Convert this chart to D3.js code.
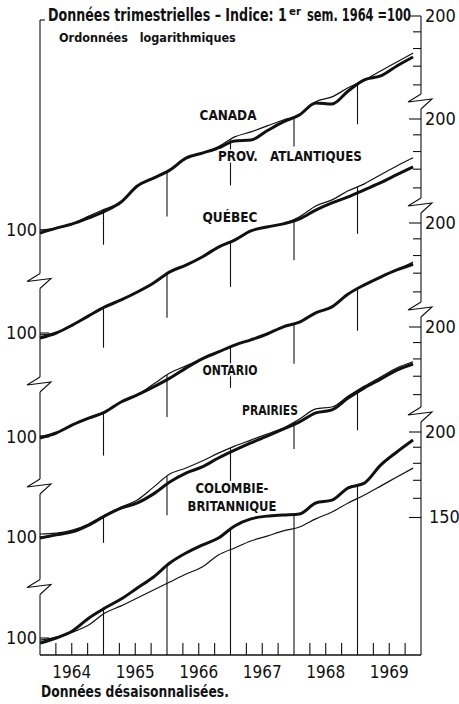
<!DOCTYPE html>
<html>
<head>
<meta charset="utf-8">
<script src="https://cdn.jsdelivr.net/npm/d3@7/dist/d3.min.js"></script>
<style>
  body { margin: 0; background: #fff; }
  svg text { font-family: "Liberation Sans Narrow", "Arial Narrow", "DejaVu Sans Condensed", sans-serif; fill: #111; }
</style>
</head>
<body>
<svg id="chart" width="459" height="704"></svg>
<script>
// ---- Data: quarterly, seasonally adjusted index (1st half 1964 = 100) ----
const years = ["1964", "1965", "1966", "1967", "1968", "1969"];

// panel 1
const thick1 = [99.0, 100.6, 102.0, 104.0, 106.3, 109.5, 115.3, 118.3, 121.4, 126.2, 128.3, 130.4,
                133.4, 133.8, 137.9, 141.9, 145.2, 150.9, 150.4, 156.9, 162.6, 164.7, 170.1, 175.1];
const thin1  = [100.0, 100.6, 102.0, 104.6, 107.0, 109.5, 115.3, 118.3, 121.4, 126.2, 128.3, 131.0,
                135.2, 137.4, 140.1, 142.8, 145.2, 151.5, 153.9, 158.5, 162.6, 167.4, 172.3, 177.4];
// panel 2
const thick2 = [98.4, 100.0, 102.6, 105.7, 108.8, 111.3, 114.2, 117.6, 121.9, 124.6, 127.9, 132.1,
                135.1, 139.2, 141.0, 142.4, 144.7, 148.9, 152.4, 155.4, 159.0, 162.7, 167.0, 171.3];
const thin2  = [99.4, 100.0, 102.6, 105.7, 108.8, 111.3, 114.2, 117.6, 121.9, 124.6, 127.9, 132.1,
                135.1, 139.2, 141.0, 142.4, 145.7, 150.9, 153.9, 158.5, 162.1, 167.0, 171.8, 176.4];
// panel 3
const thick3 = [99.7, 101.3, 104.0, 106.3, 108.4, 112.0, 114.6, 117.6, 121.0, 125.0, 128.8, 131.7,
                134.7, 137.0, 139.6, 142.9, 145.1, 149.5, 152.4, 158.9, 163.7, 167.9, 171.8, 175.0];
const thin3  = [100.3, 101.3, 104.0, 106.3, 108.4, 112.0, 114.6, 118.7, 123.0, 125.9, 128.8, 131.7,
                134.7, 137.0, 139.6, 142.9, 145.1, 149.5, 152.4, 158.9, 163.7, 167.9, 171.8, 176.3];
// panel 4
const thick4 = [99.7, 100.7, 101.7, 104.0, 107.2, 110.0, 111.9, 115.3, 119.9, 123.5, 126.0, 129.8,
                133.2, 136.4, 139.5, 142.8, 146.2, 150.6, 152.1, 158.2, 163.6, 168.4, 173.5, 177.0];
const thin4  = [101.0, 101.3, 102.3, 104.4, 107.5, 110.4, 113.0, 117.9, 123.1, 125.6, 128.5, 131.9,
                135.0, 137.7, 140.5, 143.3, 147.6, 152.6, 153.6, 159.2, 164.6, 169.6, 174.7, 178.3];
// panel 5
const thick5 = [98.3, 100.0, 102.4, 106.9, 110.6, 114.0, 118.3, 122.8, 128.7, 133.1, 136.7, 140.0,
                145.8, 149.3, 150.7, 151.3, 151.8, 157.5, 159.0, 165.7, 168.4, 178.9, 187.0, 194.7];
const thin5  = [99.3, 100.3, 102.0, 104.5, 108.8, 111.4, 114.4, 117.5, 120.7, 124.0, 127.0, 132.2,
                135.4, 138.6, 140.9, 143.4, 145.3, 149.3, 152.8, 157.5, 161.8, 166.7, 171.9, 177.1];

const regionLabels = [["CANADA"], ["PROV.   ATLANTIQUES"], ["QUÉBEC"], ["ONTARIO"], ["PRAIRIES"],
                      ["COLOMBIE-", "BRITANNIQUE"]];
const leftTickLabel = "100";
const rightTickValues = [200, 190, 180, 170, 160];
const bottomExtraTicks = [150];
const titleParts = ["Données trimestrielles – Indice: 1", "er", "sem. 1964 =100"];
const subtitle = "Ordonnées   logarithmiques";
const footnote = "Données désaisonnalisées.";

// ---- Layout ----
const svg = d3.select("#chart");
const xLeft = 40, xRight = 421, yBottom = 655;
const panelY100 = [230, 333, 437, 537, 638];
const panelY200 = [16, 119, 223, 327, 432];
const dropLen = [[35, 45, 46, 30, 41], [40, 44, 45, 41, 47], [43, 42, 41, 40, 42], [27, 39, 33, 27, 40]];
const labelPos = [[228, 120], [290, 161], [230, 222], [230, 375], [270, 415], [232, 493], [232, 511]];
const labelWidth = [57, 144, 55, 55, 56, 73, 89];

const panels = [[thick1, thin1], [thick2, thin2], [thick3, thin3], [thick4, thin4], [thick5, thin5]];
const yScales = panels.map((p, i) => d3.scaleLog().domain([100, 200]).range([panelY100[i], panelY200[i]]));

const nQ = years.length * 4;
const xq = d3.scaleLinear().domain([0, nQ]).range([xLeft, xRight]);        // quarter boundaries
const xp = d3.scaleLinear().domain([0, nQ - 1]).range([xq(0), xq(nQ - 0.5)]); // plotted points

const ink = "#111";

// value of a series at fractional point index (log interpolation)
function valueAt(arr, t) {
  const i0 = Math.max(0, Math.min(arr.length - 2, Math.floor(t)));
  const f = t - i0;
  return Math.exp(Math.log(arr[i0]) * (1 - f) + Math.log(arr[i0 + 1]) * f);
}

// squeeze a text horizontally so it spans the given width (condensed type)
function fitText(sel, x, y, width) {
  sel.attr("x", 0).attr("y", 0).style("white-space", "pre");
  const natural = sel.node().getComputedTextLength();
  const s = Math.min(1.3, width / natural);
  sel.attr("transform", `translate(${x},${y}) scale(${s},1)`);
  return sel;
}

// ---- Axes frame ----
const leftBreaks = panelY100.slice(0, 4).map((y, i) => (y + panelY100[i + 1]) / 2);
const rightBreaks = panelY200.slice(1).map(y => y - 17);

function breakPath(ax, yb) {
  return `M${ax},${yb - 8}L${ax - 13},${yb}L${ax + 11},${yb - 3}L${ax},${yb + 7}`;
}
function drawBrokenAxis(ax, yTop, yBot, breaks) {
  const g = svg.append("g").attr("fill", "none").attr("stroke", ink).attr("stroke-width", 1.1);
  let y0 = yTop;
  breaks.forEach(b => {
    g.append("line").attr("x1", ax).attr("x2", ax).attr("y1", y0).attr("y2", b - 8);
    g.append("path").attr("d", breakPath(ax, b));
    y0 = b + 7;
  });
  g.append("line").attr("x1", ax).attr("x2", ax).attr("y1", y0).attr("y2", yBot);
}
drawBrokenAxis(xLeft, panelY200[0] + 4, yBottom, leftBreaks);
drawBrokenAxis(xRight, panelY200[0], yBottom, rightBreaks);

// left top corner tick
svg.append("line").attr("x1", xLeft).attr("x2", xLeft + 5)
  .attr("y1", panelY200[0] + 4).attr("y2", panelY200[0] + 4).attr("stroke", ink).attr("stroke-width", 1.1);

// bottom axis
svg.append("line").attr("x1", xLeft).attr("x2", xRight).attr("y1", yBottom).attr("y2", yBottom)
  .attr("stroke", ink).attr("stroke-width", 1.3);
const qTicks = d3.range(1, nQ).filter(q => q % 4 !== 0);
svg.append("g").selectAll("line").data(qTicks).join("line")
  .attr("x1", d => xq(d)).attr("x2", d => xq(d))
  .attr("y1", yBottom).attr("y2", yBottom - 12)
  .attr("stroke", ink).attr("stroke-width", 1.1);

// year labels
svg.append("g").selectAll("text").data(years).join("text")
  .attr("x", (d, i) => xq(i * 4 + 2)).attr("y", 678)
  .attr("text-anchor", "middle").attr("font-size", 17)
  .text(d => d);

// left 100 labels and ticks, right 200 (and 150) labels and ticks
yScales.forEach((ys, i) => {
  svg.append("line").attr("x1", xLeft).attr("x2", xLeft + 9)
    .attr("y1", ys(100)).attr("y2", ys(100)).attr("stroke", ink).attr("stroke-width", 1.1);
  svg.append("text").attr("x", 37).attr("y", ys(100) + 6).attr("text-anchor", "end")
    .attr("font-size", 18).text(leftTickLabel);

  const vals = i === panels.length - 1 ? rightTickValues.concat(bottomExtraTicks) : rightTickValues;
  vals.forEach(v => {
    const major = v === 200 || v === 150;
    svg.append("line").attr("x1", xRight - (major ? 12 : 8)).attr("x2", xRight)
      .attr("y1", ys(v)).attr("y2", ys(v)).attr("stroke", ink).attr("stroke-width", 1.1);
  });
  svg.append("text").attr("x", 425).attr("y", ys(200) + 6).attr("font-size", 18).text("200");
  if (i === panels.length - 1) {
    svg.append("text").attr("x", 429).attr("y", ys(150) + 6).attr("font-size", 18).text(String(bottomExtraTicks[0]));
  }
});

// ---- Year boundary lines ----
const yearBounds = d3.range(1, years.length).map(k => k * 4);
panels.forEach((p, i) => {
  const ys = yScales[i];
  yearBounds.forEach((q, j) => {
    const t = xp.invert(xq(q));
    const yTop = Math.min(ys(valueAt(p[0], t)), ys(valueAt(p[1], t)));
    const yEnd = i === panels.length - 1 ? yBottom : yTop + dropLen[i][j];
    svg.append("line").attr("x1", xq(q)).attr("x2", xq(q)).attr("y1", yTop).attr("y2", yEnd)
      .attr("stroke", ink).attr("stroke-width", 1.1);
  });
});

// ---- Series lines ----
panels.forEach((p, i) => {
  const ys = yScales[i];
  const line = d3.line().x((d, k) => xp(k)).y(d => ys(d)).curve(d3.curveMonotoneX);
  svg.append("path").datum(p[1]).attr("d", line)
    .attr("fill", "none").attr("stroke", ink).attr("stroke-width", 1.2).attr("stroke-linejoin", "round");
  svg.append("path").datum(p[0]).attr("d", line)
    .attr("fill", "none").attr("stroke", ink).attr("stroke-width", 3).attr("stroke-linejoin", "round");
});

// ---- Region labels ----
const labelG = svg.append("g");
regionLabels.flat().forEach((txt, i) => {
  const t = labelG.append("text")
    .attr("text-anchor", "middle").attr("font-size", 13.5).attr("font-weight", "bold")
    .attr("stroke", "#fff").attr("stroke-width", 3).attr("paint-order", "stroke")
    .text(txt);
  fitText(t, labelPos[i][0], labelPos[i][1], labelWidth[i]);
});

// ---- Titles ----
const titleG = svg.append("g").attr("font-weight", "bold");
fitText(titleG.append("text").attr("font-size", 17).text(titleParts[0]), 48, 21, 239);
fitText(titleG.append("text").attr("font-size", 11).text(titleParts[1]), 289, 15, 12);
fitText(titleG.append("text").attr("font-size", 17).text(titleParts[2]), 307, 21, 104);

fitText(svg.append("text").attr("font-size", 12.5).attr("font-weight", "bold").text(subtitle), 59, 42, 177);

fitText(svg.append("text").attr("font-size", 15).attr("font-weight", "bold").text(footnote), 41, 697, 188);
</script>
</body>
</html>
